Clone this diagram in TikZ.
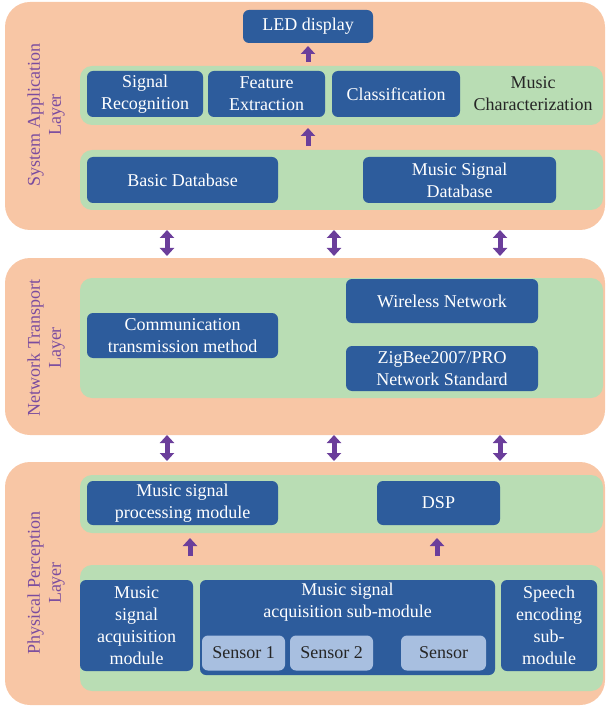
\documentclass[tikz,border=0pt]{standalone}
\usepackage{fontspec}
\setmainfont{Liberation Serif}
\usetikzlibrary{arrows.meta}
\definecolor{layerbg}{HTML}{F8C6A5}
\definecolor{bandbg}{HTML}{B9DDB4}
\definecolor{boxblue}{HTML}{2D5C9C}
\definecolor{sensorblue}{HTML}{A8BFE0}
\definecolor{arrowpurple}{HTML}{6B3E9B}
\definecolor{labelpurple}{HTML}{7A4C9F}
\tikzset{
  layer/.style={fill=layerbg, rounded corners=25pt},
  band/.style={fill=bandbg, rounded corners=12pt},
  blk/.style={fill=boxblue, rounded corners=6pt, text=white, align=center, inner sep=0pt,
    font=\fontsize{18}{22}\selectfont},
  sens/.style={fill=sensorblue, rounded corners=6pt, text=black!85, align=center, inner sep=0pt,
    font=\fontsize{18}{22}\selectfont},
  layerlabel/.style={rotate=90, text=labelpurple, align=center, font=\fontsize{18}{21}\selectfont},
  uparrow/.style={draw=arrowpurple, line width=5pt, -{Triangle[width=14pt,length=8pt]}},
  dblarrow/.style={draw=arrowpurple, line width=5pt, {Triangle[width=14pt,length=8pt]}-{Triangle[width=14pt,length=8pt]}},
}
\begin{document}
\begin{tikzpicture}[x=1pt,y=-1pt]
\useasboundingbox (0,0) rectangle (606,708);
% Layers
\path[layer] (5,2) rectangle (605,230);
\path[layer] (5,258) rectangle (605,435);
\path[layer] (5,462) rectangle (605,705);
% Bands
\path[band] (80,66) rectangle (603,125);
\path[band] (80,150) rectangle (603,210);
\path[band] (80,278) rectangle (603,398);
\path[band] (80,475) rectangle (603,533);
\path[band] (80,565) rectangle (603,691);
% Layer labels
\node[layerlabel] (lab1) at (46,115) {System Application\\Layer};
\node[layerlabel] (lab2) at (46,348) {Network Transport\\Layer};
\node[layerlabel] (lab3) at (46,583) {Physical Perception\\Layer};
% System application layer
\node[blk, minimum width=130pt, minimum height=33pt] (led) at (308,26.5) {LED display};
\node[blk, minimum width=116pt, minimum height=46pt] (sig) at (145,94) {Signal\\Recognition};
\node[blk, minimum width=117pt, minimum height=46pt] (feat) at (266.5,94) {Feature\\Extraction};
\node[blk, minimum width=128pt, minimum height=46pt] (cls) at (396,94) {Classification};
\node[align=center, text=black!85, inner sep=0pt, font=\fontsize{18}{22}\selectfont] (mchar) at (533,94) {Music\\Characterization};
\node[blk, minimum width=191pt, minimum height=46pt] (bdb) at (182.5,180) {Basic Database};
\node[blk, minimum width=193pt, minimum height=46pt] (msdb) at (459.5,180) {Music Signal\\Database};
\coordinate (a1s) at (308,62);
\coordinate (a1e) at (308,46);
\coordinate (a2s) at (308,146);
\coordinate (a2e) at (308,128);
\draw[uparrow] (a1s) -- (a1e);
\draw[uparrow] (a2s) -- (a2e);
% Network transport layer
\node[blk, minimum width=191pt, minimum height=45pt] (comm) at (182.5,335.5) {Communication\\transmission method};
\node[blk, minimum width=192pt, minimum height=44pt] (wnet) at (442,301) {Wireless Network};
\node[blk, minimum width=192pt, minimum height=45pt] (zig) at (442,368.5) {ZigBee2007/PRO\\Network Standard};
% Physical perception layer
\node[blk, minimum width=191pt, minimum height=44pt] (mspm) at (182.5,503) {Music signal\\processing module};
\node[blk, minimum width=123pt, minimum height=44pt] (dsp) at (438.5,503) {DSP};
\node[blk, minimum width=113pt, minimum height=91pt] (msam) at (136.5,625.5) {Music\\signal\\acquisition\\module};
\node[blk, minimum width=295pt, minimum height=95pt] (big) at (347.5,627.5) {};
\node[text=white, align=center, inner sep=0pt, font=\fontsize{18}{22}\selectfont] (bigtxt) at (347.5,602) {Music signal\\acquisition sub-module};
\node[sens, minimum width=83pt, minimum height=35pt] (s1) at (243.5,653) {Sensor 1};
\node[sens, minimum width=83pt, minimum height=35pt] (s2) at (331.5,653) {Sensor 2};
\node[sens, minimum width=85pt, minimum height=35pt] (s3) at (443.5,653) {Sensor};
\node[blk, minimum width=96pt, minimum height=91pt] (speech) at (549,625.5) {Speech\\encoding\\sub-\\module};
\coordinate (p1s) at (190,556);
\coordinate (p1e) at (190,538);
\coordinate (p2s) at (437,556);
\coordinate (p2e) at (437,538);
\draw[uparrow] (p1s) -- (p1e);
\draw[uparrow] (p2s) -- (p2e);
% Double arrows between layers
\foreach \x/\n in {167/a,334/b,500/c}{
  \coordinate (u\n) at (\x,230);
  \coordinate (v\n) at (\x,256);
  \draw[dblarrow] (u\n) -- (v\n);
  \coordinate (w\n) at (\x,435);
  \coordinate (z\n) at (\x,461);
  \draw[dblarrow] (w\n) -- (z\n);
}
\end{tikzpicture}
\end{document}
